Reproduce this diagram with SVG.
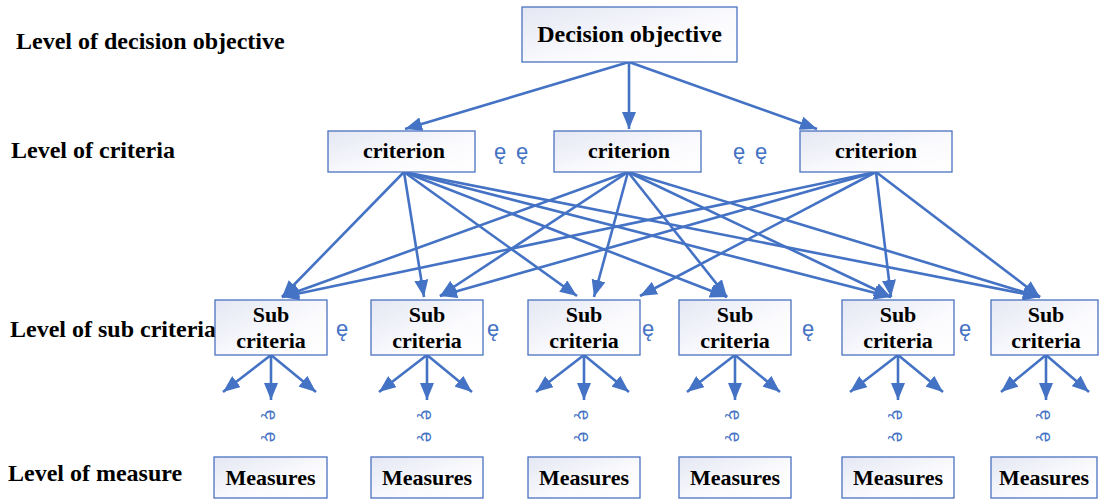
<svg xmlns="http://www.w3.org/2000/svg" width="1099" height="499" viewBox="0 0 1099 499">
<style>
.box{fill:url(#g);stroke:#4a72c0;stroke-width:1.3}
.t{font-family:'Liberation Serif','Times New Roman',Times,Tinos,'Noto Serif','DejaVu Serif',FreeSerif,serif;font-weight:bold;fill:#000;text-anchor:middle;font-size:22px}
.lv{font-family:'Liberation Serif','Times New Roman',Times,Tinos,'Noto Serif','DejaVu Serif',FreeSerif,serif;font-weight:bold;fill:#000;font-size:24px}
.e{font-family:'Liberation Sans','DejaVu Sans',sans-serif;fill:#4472c4;font-size:22px}
.v{font-family:'Liberation Sans','DejaVu Sans',sans-serif;fill:#4472c4;font-size:19px;text-anchor:middle}
.c line{stroke:#4472c4;stroke-width:2.6;marker-end:url(#a)}
</style>
<defs>
<linearGradient id="g" x1="0" y1="0" x2="1" y2="1">
<stop offset="0" stop-color="#e4e7f3"/>
<stop offset="0.6" stop-color="#fbfbfe"/>
<stop offset="1" stop-color="#ffffff"/>
</linearGradient>
<marker id="a" markerUnits="userSpaceOnUse" markerWidth="18" markerHeight="14" refX="17" refY="7" orient="auto">
<path d="M0,0 L17,7 L0,14 z" fill="#4472c4"/>
</marker>
</defs>
<rect width="1099" height="499" fill="#fff"/>

<g id="labels">
<text class="lv" x="16" y="49">Level of decision objective</text>
<text class="lv" x="11" y="158">Level of criteria</text>
<text class="lv" x="10" y="337">Level of sub criteria</text>
<text class="lv" x="8" y="481">Level of measure</text>
</g>

<g class="c" id="connectors">
<line x1="629" y1="62" x2="405" y2="129"/>
<line x1="629" y1="62" x2="629" y2="129"/>
<line x1="629" y1="62" x2="817" y2="129"/>

<line x1="404" y1="172" x2="282" y2="297"/>
<line x1="404" y1="172" x2="424" y2="297"/>
<line x1="404" y1="172" x2="577" y2="296"/>
<line x1="404" y1="172" x2="727" y2="297"/>
<line x1="404" y1="172" x2="891" y2="297"/>
<line x1="404" y1="172" x2="1040" y2="297"/>

<line x1="628" y1="172" x2="282" y2="297"/>
<line x1="628" y1="172" x2="440" y2="296"/>
<line x1="628" y1="172" x2="594" y2="297"/>
<line x1="628" y1="172" x2="727" y2="297"/>
<line x1="628" y1="172" x2="891" y2="297"/>
<line x1="628" y1="172" x2="1040" y2="297"/>

<line x1="876" y1="172" x2="282" y2="297"/>
<line x1="876" y1="172" x2="440" y2="296"/>
<line x1="876" y1="172" x2="640" y2="296"/>
<line x1="876" y1="172" x2="891" y2="297"/>
<line x1="876" y1="172" x2="1040" y2="297"/>

<line x1="271" y1="355" x2="223" y2="392"/><line x1="271" y1="355" x2="271" y2="400"/><line x1="271" y1="355" x2="316" y2="392"/>
<line x1="427" y1="355" x2="379" y2="392"/><line x1="427" y1="355" x2="427" y2="400"/><line x1="427" y1="355" x2="472" y2="392"/>
<line x1="584" y1="355" x2="536" y2="392"/><line x1="584" y1="355" x2="584" y2="400"/><line x1="584" y1="355" x2="629" y2="392"/>
<line x1="735" y1="355" x2="687" y2="392"/><line x1="735" y1="355" x2="735" y2="400"/><line x1="735" y1="355" x2="780" y2="392"/>
<line x1="898" y1="355" x2="850" y2="392"/><line x1="898" y1="355" x2="898" y2="400"/><line x1="898" y1="355" x2="943" y2="392"/>
<line x1="1046" y1="355" x2="1001" y2="392"/><line x1="1046" y1="355" x2="1046" y2="400"/><line x1="1046" y1="355" x2="1089" y2="392"/>
</g>

<g id="objective"><rect class="box" x="522" y="7" width="215" height="55"/><text class="t" x="629.5" y="42" style="font-size:24px">Decision objective</text></g>

<g id="criterion1"><rect class="box" x="328" y="131" width="147" height="41"/><text class="t" x="404" y="158">criterion</text></g>
<g id="criterion2"><rect class="box" x="554" y="131" width="147" height="41"/><text class="t" x="629" y="158">criterion</text></g>
<g id="criterion3"><rect class="box" x="800" y="131" width="152" height="41"/><text class="t" x="876" y="158">criterion</text></g>

<g id="ellipses">
<text class="e" x="494" y="159">ę</text><text class="e" x="516" y="159">ę</text>
<text class="e" x="733" y="159">ę</text><text class="e" x="755" y="159">ę</text>
<text class="e" x="336" y="336">ę</text>
<text class="e" x="487" y="336">ę</text>
<text class="e" x="642" y="336">ę</text>
<text class="e" x="802" y="336">ę</text>
<text class="e" x="959" y="336">ę</text>
</g>

<g id="sub1"><rect class="box" x="215" y="300" width="112" height="55"/><text class="t" x="271" y="322">Sub</text><text class="t" x="271" y="348">criteria</text></g>
<g id="sub2"><rect class="box" x="371" y="300" width="112" height="55"/><text class="t" x="427" y="322">Sub</text><text class="t" x="427" y="348">criteria</text></g>
<g id="sub3"><rect class="box" x="528" y="300" width="112" height="55"/><text class="t" x="584" y="322">Sub</text><text class="t" x="584" y="348">criteria</text></g>
<g id="sub4"><rect class="box" x="679" y="300" width="112" height="55"/><text class="t" x="735" y="322">Sub</text><text class="t" x="735" y="348">criteria</text></g>
<g id="sub5"><rect class="box" x="842" y="300" width="112" height="55"/><text class="t" x="898" y="322">Sub</text><text class="t" x="898" y="348">criteria</text></g>
<g id="sub6"><rect class="box" x="991" y="300" width="107" height="55"/><text class="t" x="1046" y="322">Sub</text><text class="t" x="1046" y="348">criteria</text></g>

<g id="vdots">
<text class="v" transform="translate(271,415) rotate(90)" y="6">ę</text><text class="v" transform="translate(271,437) rotate(90)" y="6">ę</text>
<text class="v" transform="translate(427,415) rotate(90)" y="6">ę</text><text class="v" transform="translate(427,437) rotate(90)" y="6">ę</text>
<text class="v" transform="translate(584,415) rotate(90)" y="6">ę</text><text class="v" transform="translate(584,437) rotate(90)" y="6">ę</text>
<text class="v" transform="translate(735,415) rotate(90)" y="6">ę</text><text class="v" transform="translate(735,437) rotate(90)" y="6">ę</text>
<text class="v" transform="translate(898,415) rotate(90)" y="6">ę</text><text class="v" transform="translate(898,437) rotate(90)" y="6">ę</text>
<text class="v" transform="translate(1046,415) rotate(90)" y="6">ę</text><text class="v" transform="translate(1046,437) rotate(90)" y="6">ę</text>
</g>

<g id="measures1"><rect class="box" x="214" y="457" width="113" height="41"/><text class="t" x="270.5" y="485">Measures</text></g>
<g id="measures2"><rect class="box" x="371" y="457" width="112" height="41"/><text class="t" x="427" y="485">Measures</text></g>
<g id="measures3"><rect class="box" x="528" y="457" width="112" height="41"/><text class="t" x="584" y="485">Measures</text></g>
<g id="measures4"><rect class="box" x="679" y="457" width="112" height="41"/><text class="t" x="735" y="485">Measures</text></g>
<g id="measures5"><rect class="box" x="842" y="457" width="112" height="41"/><text class="t" x="898" y="485">Measures</text></g>
<g id="measures6"><rect class="box" x="991" y="457" width="106" height="41"/><text class="t" x="1044" y="485">Measures</text></g>
</svg>
